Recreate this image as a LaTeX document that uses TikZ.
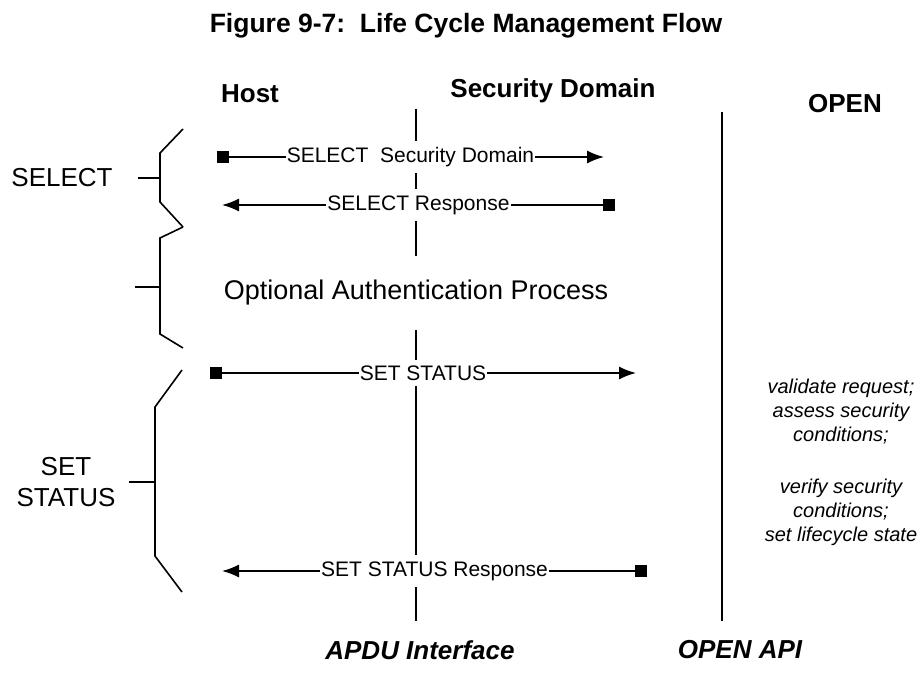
\documentclass[tikz,border=0pt]{standalone}
\usepackage{fontspec}
\setmainfont{Liberation Sans}
\usetikzlibrary{arrows.meta}
\tikzset{
  msg/.style={line width=1.6pt,
    {Square[length=12pt,width=12pt]}-{Latex[length=17pt,width=13pt]}},
  reply/.style={line width=1.6pt,
    {Latex[length=17pt,width=13pt]}-{Square[length=12pt,width=12pt]}},
  msglabel/.style={fill=white, inner xsep=1pt, inner ysep=6pt,
    font=\fontsize{21}{24}\selectfont},
  lifeline/.style={line width=1.5pt},
  brace/.style={line width=1.6pt, line join=miter},
  phase/.style={font=\fontsize{26}{31}\selectfont, align=center},
  header/.style={font=\fontsize{26}{31}\selectfont\bfseries},
  footer/.style={font=\fontsize{26}{31}\selectfont\bfseries\itshape},
  note/.style={font=\fontsize{20}{24}\selectfont\itshape, align=center}
}
\begin{document}
\begin{tikzpicture}[x=1pt,y=-1pt]
  \useasboundingbox (0,0) rectangle (922,674);
  % title and column heads
  \node[font=\fontsize{26.5}{31}\selectfont\bfseries] (title) at (466,26)
    {Figure 9-7:\ \ Life Cycle Management Flow};
  \node[header] (host) at (250,94) {Host};
  \node[header] (sd) at (553,91) {Security Domain};
  \node[header] (open) at (845,104) {OPEN};

  % lifelines
  \coordinate (sdTop) at (416,109);
  \coordinate (sdBot) at (416,621);
  \coordinate (openTop) at (722,112);
  \coordinate (openBot) at (722,621);
  \draw[lifeline] (sdTop) -- (sdBot);
  \draw[lifeline] (openTop) -- (openBot);

  % messages
  \coordinate (selS) at (217,157);
  \coordinate (selE) at (604,157);
  \coordinate (selrS) at (615,205);
  \coordinate (selrE) at (222,205);
  \coordinate (setS) at (210,373);
  \coordinate (setE) at (636,373);
  \coordinate (setrS) at (647,571);
  \coordinate (setrE) at (222,571);
  \draw[msg] (selS) -- node[msglabel] (selLbl) {SELECT\ \ Security Domain} (selE);
  \draw[reply] (selrE) -- node[msglabel] (selrLbl) {SELECT Response} (selrS);
  \draw[msg] (setS) -- node[msglabel] (setLbl) {SET STATUS} (setE);
  \draw[reply] (setrE) -- node[msglabel] (setrLbl) {SET STATUS Response} (setrS);

  \node[fill=white, inner xsep=2pt, inner ysep=24pt,
    font=\fontsize{27}{32}\selectfont] (auth) at (416,293)
    {Optional Authentication Process};

  % braces on the left
  \draw[brace] (183,129) -- (160,153) -- (160,202) -- (183,227);
  \draw[brace] (183,227) -- (160,238) -- (160,334) -- (183,348);
  \draw[brace] (182,370) -- (155,407) -- (155,556) -- (182,592);
  \coordinate (selTick) at (160,178);
  \coordinate (authTick) at (160,287);
  \coordinate (setTick) at (155,482);
  \node[phase] (select) at (62,178) {SELECT};
  \node[phase] (setstatus) at (66,482) {SET\\STATUS};
  \draw[brace] (select.east) ++(22,0) -- (selTick);
  \draw[brace] (authTick) -- ++(-25,0);
  \draw[brace] (setstatus.east) ++(10,0) -- (setTick);

  % OPEN side
  \node[note] (check) at (841,412)
    {validate request;\\assess security\\conditions;};
  \node[note] (apply) at (841,512)
    {verify security\\conditions;\\set lifecycle state};

  % interfaces
  \node[footer] (apdu) at (420,650) {APDU Interface};
  \node[footer] (openapi) at (740,650) {OPEN API};
\end{tikzpicture}
\end{document}
